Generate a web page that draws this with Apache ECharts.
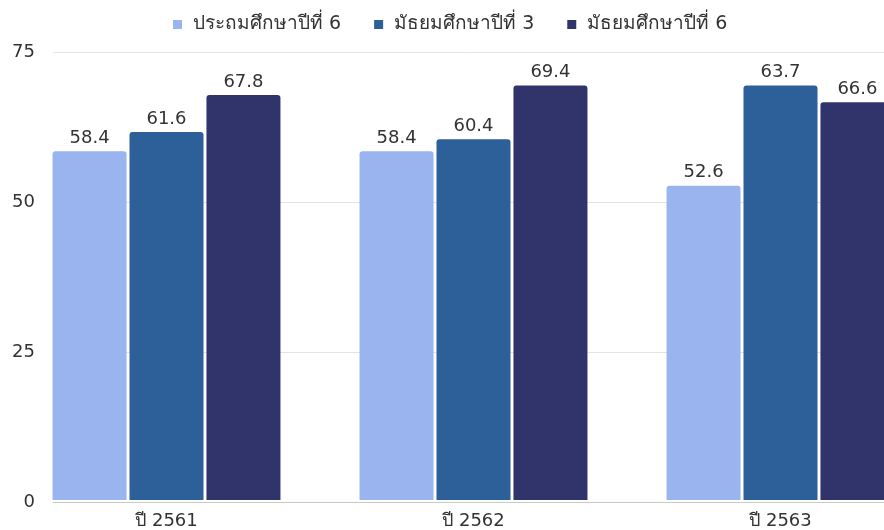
<!DOCTYPE html>
<html lang="th">
<head>
    <meta charset="utf-8"/>
    <title>chart</title>
    <script src="https://cdn.jsdelivr.net/npm/echarts@6/dist/echarts.min.js"></script>
    <style>
        html, body { margin: 0; padding: 0; background: #fff; overflow: hidden; }
        /* the plot runs past the right edge of the picture, so the canvas is wider than the window */
        #chart { width: 934px; height: 530px; }
    </style>
</head>
<body>
<div id="chart"></div>
<script>
    // data
    const years = ['ปี 2561', 'ปี 2562', 'ปี 2563'];
    const seriesNames = ['ประถมศึกษาปีที่ 6', 'มัธยมศึกษาปีที่ 3', 'มัธยมศึกษาปีที่ 6'];
    const p6 = [58.4, 58.4, 52.6];
    const m3 = [61.6, 60.4, 69.4];          // bar heights as drawn
    const m3Labels = ['61.6', '60.4', '63.7']; // labels as printed on the picture
    const m6 = [67.8, 69.4, 66.6];
    const yTicks = [0, 25, 50, 75];

    const colors = ['#99b4ee', '#2d5f98', '#30346a'];
    const font = '"DejaVu Sans", "Noto Sans", sans-serif';

    const chart = echarts.init(document.getElementById('chart'));

    function bar(name, data, idx, labels) {
        return {
            type: 'bar',
            name: name,
            xAxisIndex: 0,
            yAxisIndex: 0,
            data: data,
            barWidth: 74,
            barGap: '4%',
            itemStyle: { color: colors[idx], borderRadius: [3, 3, 0, 0] },
            label: {
                show: true,
                position: 'top',
                distance: 4,
                fontSize: 18,
                fontFamily: font,
                color: '#333',
                formatter: labels ? (p) => labels[p.dataIndex] : (p) => p.value.toFixed(1)
            }
        };
    }

    const option = {
        animation: false,
        color: colors,
        textStyle: { fontFamily: font },
        legend: {
            left: 168,
            top: 10,
            icon: 'rect',
            itemWidth: 9,
            itemHeight: 9,
            itemGap: 33,
            textStyle: { fontSize: 19, color: '#333', fontFamily: font, padding: [0, 0, 0, 6] },
            data: seriesNames
        },
        grid: [
            // bars: category bands run past the right edge of the window
            { left: 13, right: 0, top: 52, bottom: 28 },
            // visible gridlines, axis line and y labels
            { left: 53, right: 50, top: 52, bottom: 28 }
        ],
        xAxis: [
            {
                type: 'category',
                gridIndex: 0,
                data: years,
                axisLine: { show: false },
                axisTick: { show: false },
                axisLabel: { fontSize: 18, color: '#333', margin: 12, fontFamily: font }
            },
            {
                type: 'value',
                gridIndex: 1,
                min: 0,
                max: 1,
                axisLine: { show: true, lineStyle: { color: '#c8c8c8', width: 1 } },
                axisTick: { show: false },
                axisLabel: { show: false },
                splitLine: { show: false }
            }
        ],
        yAxis: [
            { type: 'value', gridIndex: 0, min: yTicks[0], max: yTicks[yTicks.length - 1], show: false },
            {
                type: 'value',
                gridIndex: 1,
                min: yTicks[0],
                max: yTicks[yTicks.length - 1],
                interval: 25,
                axisLine: { show: false },
                axisTick: { show: false },
                axisLabel: { fontSize: 18, color: '#333', margin: 18, fontFamily: font },
                splitLine: { lineStyle: { color: '#e3e3e3', width: 1 } }
            }
        ],
        series: [
            bar(seriesNames[0], p6, 0),
            bar(seriesNames[1], m3, 1, m3Labels),
            bar(seriesNames[2], m6, 2)
        ]
    };
    chart.setOption(option);
</script>
</body>
</html>
